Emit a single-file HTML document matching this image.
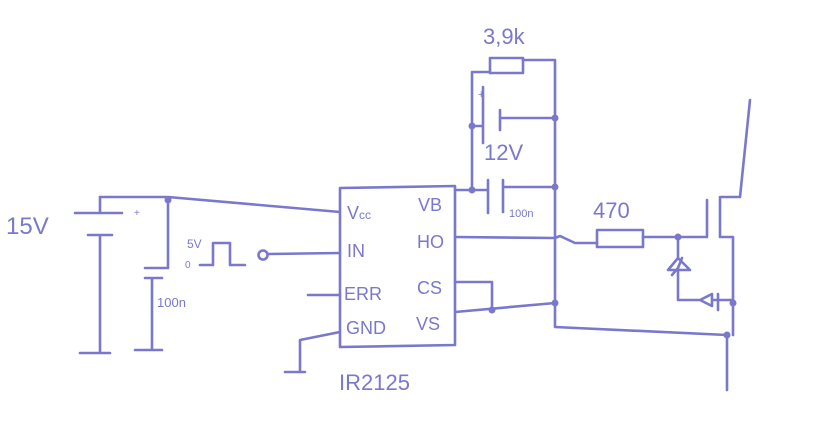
<!DOCTYPE html>
<html><head><style>body{margin:0;background:#fff}svg{display:block}</style></head><body>
<svg width="830" height="433" viewBox="0 0 830 433" xmlns="http://www.w3.org/2000/svg">
<g fill="none" stroke="#7a78cc" stroke-width="2.6" stroke-linecap="round" stroke-linejoin="round">
<!-- 15V battery -->
<path d="M75 213H122M88 235H112M100 197V213M100 235V353M80 353H110"/>
<path d="M100 197H168L340 212"/>
<!-- 100n left cap -->
<path d="M168 200V268H145M145 278H162M152 278V350M135 350H162"/>
<!-- pulse -->
<path d="M200 265H213V243H230V265H245"/>
<circle cx="263" cy="255" r="4.5"/>
<path d="M268 254L340 253"/>
<!-- ERR, GND -->
<path d="M308 295H340M340 332L300 340V372M285 372H305"/>
<!-- IC -->
<path d="M340 188L455 186V345L340 347Z"/>
<!-- top network -->
<path d="M455 190H472M472 190V72H490M523 60H555V303"/>
<rect x="490" y="58" width="33" height="15"/>
<path d="M472 126H483M483 87V143M500 110V130M500 118H555"/>
<path d="M472 190H488M488 180V213M503 180V212M503 187H555"/>
<!-- HO -->
<path d="M455 237L555 238L560 236L575 243H597M643 237H707M707 200V237"/>
<rect x="597" y="230" width="46" height="17"/>
<!-- MOSFET -->
<path d="M720 197V237M720 197H740L750 100M720 237H733V303V335M727 335V390"/>
<!-- zener & diode -->
<path d="M678 237V258M668 270H690L678 258Z M672 275L678 268L682 258M678 270V300H700M700 300L712 294V306ZM718 294V310M712 300H733"/>
<!-- CS/VS -->
<path d="M455 282H492V310M455 312L555 303M555 303V327L727 335"/>
</g>
<g fill="#7a78cc">
<circle cx="168" cy="200" r="3.5"/><circle cx="472" cy="126" r="3.5"/><circle cx="472" cy="190" r="3.5"/>
<circle cx="555" cy="118" r="3.5"/><circle cx="555" cy="187" r="3.5"/><circle cx="555" cy="303" r="3.5"/>
<circle cx="492" cy="310" r="3.5"/><circle cx="678" cy="237" r="3.5"/><circle cx="733" cy="303" r="3.5"/><circle cx="727" cy="335" r="3.5"/>
</g>
<g fill="#7a78cc" font-family="Liberation Sans, sans-serif">
<text x="6" y="234" font-size="24">15V</text>
<text x="134" y="216" font-size="10">+</text>
<text x="157" y="307" font-size="13">100n</text>
<text x="187" y="248" font-size="12">5V</text>
<text x="185" y="268" font-size="10">0</text>
<text x="347" y="219" font-size="18">V<tspan font-size="12">cc</tspan></text>
<text x="418" y="211" font-size="18">VB</text>
<text x="347" y="257" font-size="18">IN</text>
<text x="417" y="248" font-size="18">HO</text>
<text x="344" y="300" font-size="18">ERR</text>
<text x="417" y="294" font-size="18">CS</text>
<text x="346" y="334" font-size="18">GND</text>
<text x="416" y="330" font-size="18">VS</text>
<text x="339" y="390" font-size="22">IR2125</text>
<text x="483" y="44" font-size="22">3,9k</text>
<text x="478" y="98" font-size="11">+</text>
<text x="484" y="160" font-size="22">12V</text>
<text x="509" y="217" font-size="11">100n</text>
<text x="593" y="218" font-size="22">470</text>
</g>
</svg>
</body></html>
